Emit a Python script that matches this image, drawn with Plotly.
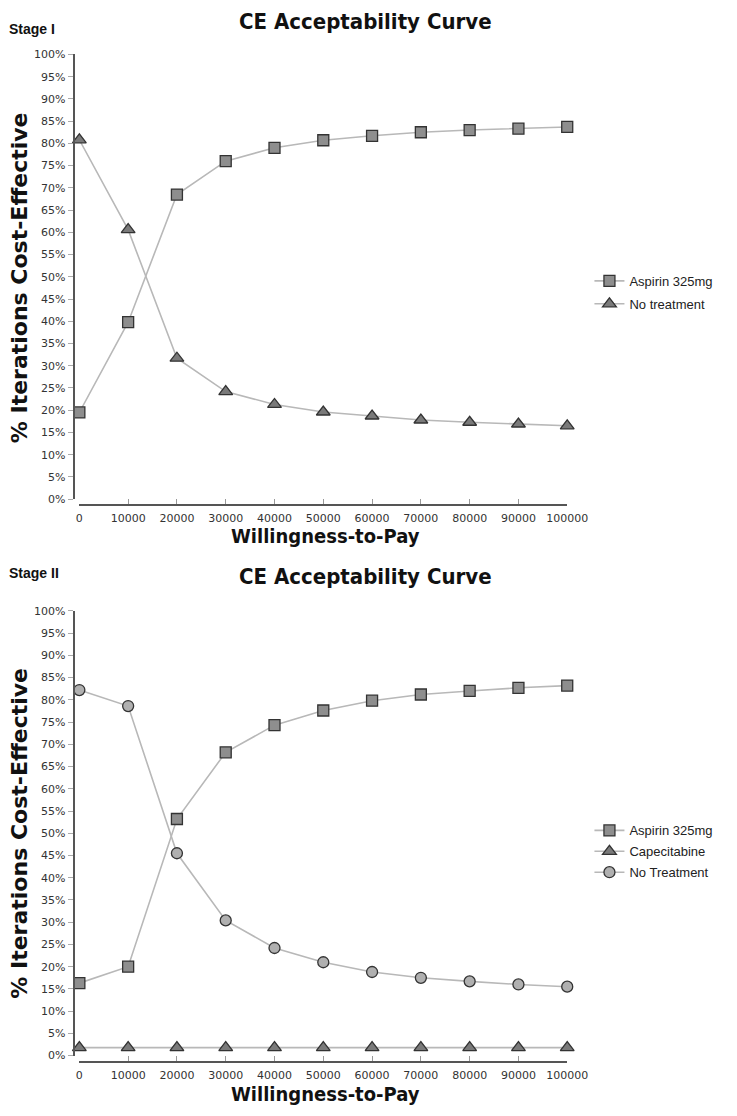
import plotly.graph_objects as go

wtp = [0, 10000, 20000, 30000, 40000, 50000, 60000, 70000, 80000, 90000, 100000]

# Stage I
s1_aspirin = [19.5, 39.8, 68.5, 76.0, 79.0, 80.7, 81.7, 82.5, 83.0, 83.3, 83.7]
s1_none = [80.8, 60.6, 31.7, 24.2, 21.3, 19.6, 18.7, 17.8, 17.3, 16.9, 16.5]

# Stage II
s2_aspirin = [16.3, 20.0, 53.2, 68.2, 74.3, 77.6, 79.8, 81.2, 82.0, 82.7, 83.2]
s2_cape = [1.8, 1.8, 1.8, 1.8, 1.8, 1.8, 1.8, 1.8, 1.8, 1.8, 1.8]
s2_none = [82.2, 78.6, 45.5, 30.4, 24.2, 21.0, 18.8, 17.5, 16.7, 16.0, 15.5]

yticks = list(range(0, 101, 5))
yticktext = [f"{v}%" for v in yticks]
xticks = wtp
xticktext = [str(v) for v in wtp]

W, H = 737, 1116


def fx(px):
    return px / W


def fy(px):
    return 1 - px / H


LINE = "#b8b8b8"
OUT = "#333333"

fig = go.Figure()


def add(x, y, name, symbol, fill, xa, ya, legend, size):
    fig.add_trace(go.Scatter(
        x=x, y=y, name=name, mode="lines+markers",
        line=dict(color=LINE, width=1.6),
        marker=dict(symbol=symbol, size=size, color=fill, line=dict(color=OUT, width=1.3)),
        xaxis=xa, yaxis=ya, legend=legend, legendgroup=legend + name, cliponaxis=False,
    ))


add(wtp, s1_aspirin, "Aspirin 325mg", "square", "#8e8e8e", "x", "y", "legend", 11)
add(wtp, s1_none, "No treatment", "triangle-up", "#7a7a7a", "x", "y", "legend", 12)
add(wtp, s2_aspirin, "Aspirin 325mg", "square", "#8e8e8e", "x2", "y2", "legend2", 11)
add(wtp, s2_cape, "Capecitabine", "triangle-up", "#7a7a7a", "x2", "y2", "legend2", 12)
add(wtp, s2_none, "No Treatment", "circle", "#b0b0b0", "x2", "y2", "legend2", 11)

tickfont = dict(family="DejaVu Sans", size=11, color="#333333")

xcommon = dict(
    domain=[fx(78), fx(583)], range=[0, 100000], tickvals=xticks, ticktext=xticktext,
    showgrid=False, zeroline=False, showline=True, linecolor="#555555", linewidth=2,
    ticks="inside", ticklen=5, tickcolor="#999999", tickfont=tickfont,
    anchor="free", ticklabelstandoff=3,
)
ycommon = dict(
    range=[0, 100], tickvals=yticks, ticktext=yticktext,
    showgrid=False, zeroline=False, showline=True, linecolor="#555555", linewidth=2,
    ticks="outside", ticklen=5, tickcolor="#aaaaaa", tickfont=tickfont,
    anchor="free", position=fx(72),
)

legfont = dict(family="Liberation Sans", size=13, color="#222222")

fig.update_layout(
    width=W, height=H, margin=dict(l=0, r=0, t=0, b=0),
    paper_bgcolor="white", plot_bgcolor="white", showlegend=True,
    xaxis=dict(**xcommon, position=fy(505)),
    yaxis=dict(**ycommon, domain=[fy(499), fy(49)]),
    xaxis2=dict(**xcommon, position=fy(1068)),
    yaxis2=dict(**ycommon, domain=[fy(1062), fy(612)]),
    legend=dict(x=fx(606), y=fy(263), xanchor="left", yanchor="top",
                font=legfont, bgcolor="rgba(0,0,0,0)", itemwidth=30, tracegroupgap=3),
    legend2=dict(x=fx(606), y=fy(819), xanchor="left", yanchor="top",
                 font=legfont, bgcolor="rgba(0,0,0,0)", itemwidth=30, tracegroupgap=1),
)

title_font = dict(family="DejaVu Sans Condensed", size=22, color="#111111")
xt_font = dict(family="DejaVu Sans Condensed", size=20, color="#111111")
yt_font = dict(family="DejaVu Sans", size=22, color="#111111")
stage_font = dict(family="Liberation Sans Narrow, Liberation Sans", size=14, color="#111111")

panels = [
    dict(title=16, stage="Stage I", stage_y=23, xt=536, ymid=275),
    dict(title=577, stage="Stage II", stage_y=574, xt=1101, ymid=837),
]
for p in panels:
    fig.add_annotation(text="<b>CE Acceptability Curve</b>", x=fx(374), y=fy(p["title"]),
                       xref="paper", yref="paper", showarrow=False, font=title_font,
                       xanchor="center", yanchor="middle")
    fig.add_annotation(text="<b>Willingness-to-Pay</b>", x=fx(333), y=fy(p["xt"]),
                       xref="paper", yref="paper", showarrow=False, font=xt_font,
                       xanchor="center", yanchor="middle")
    fig.add_annotation(text="<b>% Iterations Cost-Effective</b>", x=fx(16), y=fy(p["ymid"]),
                       xref="paper", yref="paper", showarrow=False, font=yt_font,
                       textangle=-90, xanchor="center", yanchor="middle")
    fig.add_annotation(text="<b>" + p["stage"] + "</b>", x=fx(3), y=fy(p["stage_y"]),
                       xref="paper", yref="paper", showarrow=False, font=stage_font,
                       xanchor="left", yanchor="middle")

# the page body has a default 8px margin; remove it so the 737x1116 figure fills the window
fig.write_html("out.html", config={"displayModeBar": False},
               post_script="document.body.style.margin='0';")
